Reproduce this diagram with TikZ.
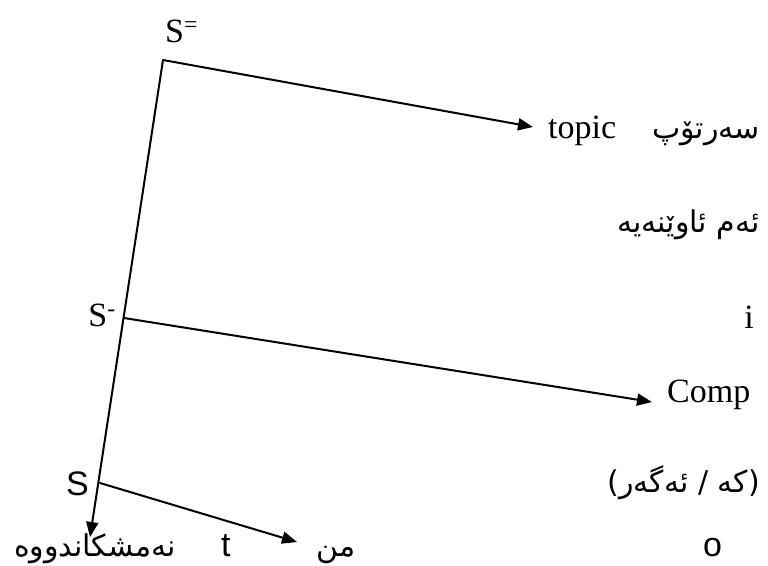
\documentclass[tikz,border=0pt]{standalone}
\usepackage{fontspec}
\setmainfont{Liberation Serif}
\newfontfamily\latsans{Liberation Sans}
\newfontfamily\arabicfont[Script=Arabic]{DejaVu Sans}
\TeXXeTstate=1
\usetikzlibrary{arrows.meta}

\begin{document}
\begin{tikzpicture}[x=1pt, y=-1pt, line join=round, line cap=round,
  serif/.style={font=\fontsize{34}{40}\selectfont, inner sep=0pt},
  sans/.style={font=\latsans\fontsize{34}{40}\selectfont, inner sep=0pt},
  kurd/.style={font=\arabicfont\fontsize{30}{36}\selectfont, inner sep=0pt},
  arr/.style={line width=2pt, -{Triangle[length=15pt,width=12pt]}}]
\useasboundingbox (0,0) rectangle (768,565);
\coordinate (top) at (163,60);
\coordinate (mid) at (124,318);
\coordinate (low) at (100,483);
\coordinate (tipS) at (90,537);
\coordinate (tipTopic) at (533,127);
\coordinate (tipComp) at (652,402);
\coordinate (tipMin) at (297,542);
\node[serif, anchor=base west] (sbb) at (165,42) {S\textsuperscript{=}};
\node[serif, anchor=base east] (sb) at (116,326) {S\textsuperscript{-}};
\node[sans, anchor=base east] (s) at (89,495) {S};
\node[serif, anchor=base west] (topic) at (548,138) {topic};
\node[kurd, anchor=base east] (sertop) at (760,138) {سەرتۆپ};
\node[kurd, anchor=base east] (awene) at (760,232) {\beginR ئەم ئاوێنەیە\endR};
\node[serif, anchor=base east] (i) at (754,328) {i};
\node[serif, anchor=base west] (comp) at (667,402) {Comp};
\node[kurd, anchor=base east] (ke) at (760,492) {\beginR (که / ئەگەر)\endR};
\node[kurd, anchor=base east] (shkand) at (176,556) {نەمشکاندووە};
\node[sans, anchor=base west] (t) at (221,556) {t};
\node[kurd, anchor=base west] (min) at (316,556) {من};
\node[sans, anchor=base west] (o) at (703,556) {o};
\draw[arr] (top) -- (tipTopic);
\draw[arr] (top) -- (tipS);
\draw[arr] (mid) -- (tipComp);
\draw[arr] (low) -- (tipMin);
\end{tikzpicture}
\end{document}
